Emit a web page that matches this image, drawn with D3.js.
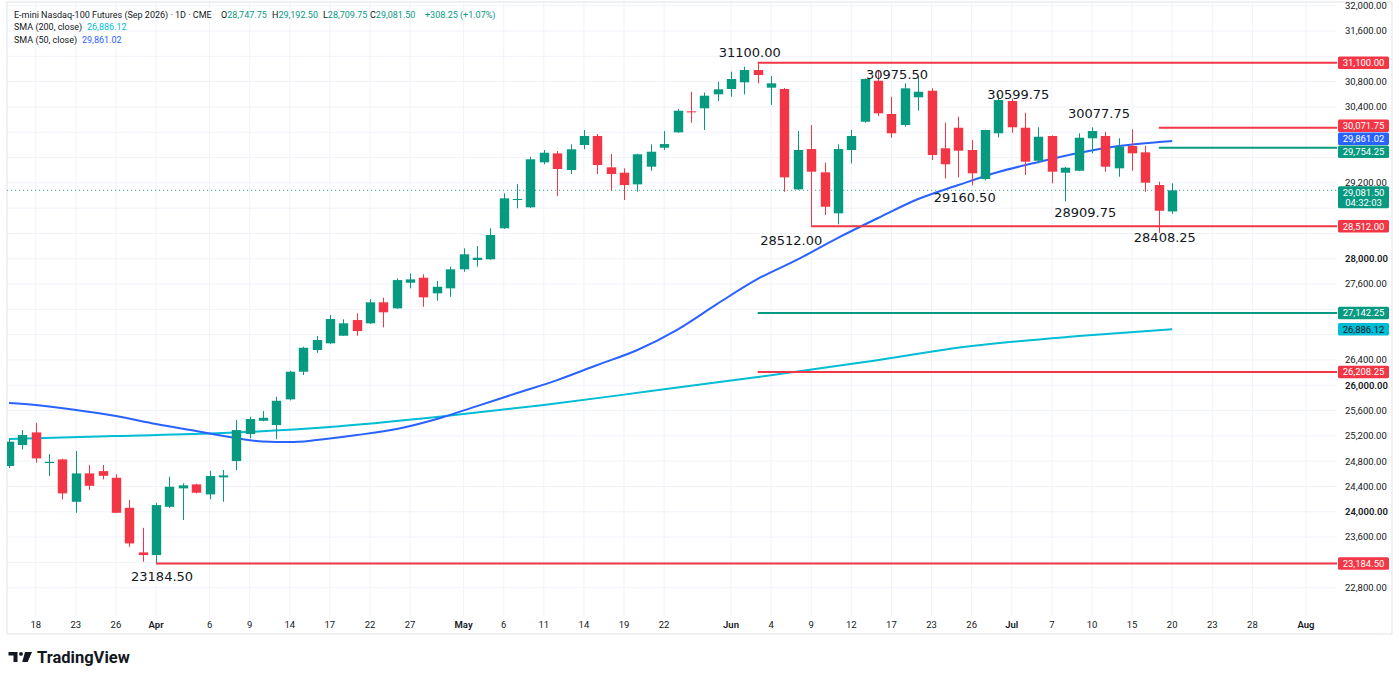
<!DOCTYPE html>
<html lang="en">
<head>
<meta charset="UTF-8">
<title>E-mini Nasdaq-100 Futures (Sep 2026) 1D</title>
<script src="https://d3js.org/d3.v7.min.js"></script>
<style>
    body { margin: 0; background: #fff; font-family: Roboto, Arial, sans-serif; }
    svg { display: block; }
    .axis-label { font-size: 9.5px; fill: #131722; }
    .note { font-family: "DejaVu Sans", sans-serif; font-size: 13px; fill: #131722; }
    .legend { font-size: 9px; fill: #131722; }
</style>
</head>
<body>
<svg width="1400" height="681"></svg>
<script>
// daily candles, one per trading day
const opens = [24724, 25055, 25255, 24770, 24828, 24158, 24607, 24643, 24538, 24063,
    23358, 23316, 24079, 24370, 24433, 24275, 24544, 24802, 25229, 25439,
    25371, 25777, 26214, 26557, 26663, 26783, 27031, 26979, 27311, 27216,
    27621, 27700, 27453, 27532, 27833, 27980, 27991, 28481, 28928, 28813,
    29524, 29666, 29402, 29798, 29940, 29445, 29360, 29176, 29455, 29755,
    29998, 30330, 30378, 30599, 30683, 30789, 30983, 30704, 30683, 29097,
    29734, 29366, 28718, 29719, 30166, 30814, 30288, 30114, 30552, 30656,
    29746, 30071, 29719, 29260, 29983, 30493, 30071, 29549, 29940, 29360,
    29391, 29904, 29940, 29429, 29782, 29682, 29165, 28747.75];
const highs = [25150, 25292, 25407, 24912, 24840, 24960, 24738, 24738, 24591, 24185,
    23747, 24143, 24554, 24449, 24440, 24648, 24660, 25450, 25502, 25592,
    25818, 26230, 26609, 26778, 27110, 27042, 27137, 27363, 27383, 27690,
    27769, 27753, 27648, 27874, 28165, 28201, 28481, 29034, 29181, 29613,
    29719, 29703, 29809, 30035, 29972, 29655, 29429, 29660, 29809, 30019,
    30367, 30640, 30625, 30798, 30957, 31036, 31100, 30889, 30700, 30019,
    30114, 29518, 29809, 30035, 30850, 30975.5, 30561, 30773, 30889, 30694,
    30150, 30245, 29877, 30040, 30599.75, 30530, 30308, 30078, 29950, 29450,
    29983, 30077.75, 30008, 29904, 30046, 29787, 29217, 29192.5];
const lows = [24690, 24987, 24775, 24565, 24196, 23984, 24343, 24512, 23980, 23447,
    23210, 23184.5, 24063, 23869, 24290, 24196, 24158, 24660, 25161, 25430,
    25145, 25760, 26161, 26514, 26650, 26780, 26783, 26970, 26915, 27210,
    27532, 27241, 27336, 27399, 27795, 27874, 27985, 28470, 28797, 28800,
    29493, 28991, 29339, 29730, 29339, 29075, 28928, 29059, 29391, 29719,
    29990, 30150, 30035, 30493, 30561, 30599, 30773, 30430, 29059, 29090,
    28512, 28691, 28544, 29508, 30150, 30256, 29913, 30087, 30340, 29561,
    29271, 29287, 29160.5, 29240, 29920, 29992, 29323, 29508, 29192, 28909.75,
    29385, 29666, 29376, 29297, 29391, 29059, 28408.25, 28709.75];
const closes = [25108, 25213, 24844, 24790, 24291, 24607, 24411, 24569, 23984, 23500,
    23316, 24106, 24396, 24418, 24301, 24565, 24575, 25292, 25466, 25486,
    25755, 26214, 26593, 26715, 27047, 26979, 26857, 27311, 27153, 27663,
    27674, 27390, 27557, 27833, 28070, 28016, 28375, 28955, 28945, 29572,
    29676, 29418, 29730, 29940, 29481, 29339, 29165, 29651, 29692, 29813,
    30340, 30315, 30577, 30678, 30841, 30983, 30904, 30773, 29287, 29719,
    29376, 28822, 29734, 29940, 30841, 30299, 29983, 30694, 30640, 29640,
    29493, 29708, 29350, 30035, 30509, 30078, 29534, 29929, 29376, 29439,
    29913, 30019, 29455, 29771, 29666, 29202, 28759, 29081.5];

// moving averages, read at a subset of bars
const sma50Bars = [0, 2, 5, 8, 11, 14, 17, 19, 21, 23, 26, 29, 32, 35, 38, 41, 44, 47, 50, 53, 56, 59, 62, 65, 68, 71, 74, 77, 80, 83, 86, 87];
const sma50 = [25719, 25687, 25608, 25513, 25387, 25276, 25165, 25110, 25102, 25134, 25213, 25308, 25466, 25671, 25877, 26082,
    26320, 26557, 26880, 27290, 27680, 27990, 28330, 28644, 28944, 29165, 29371, 29529, 29671, 29782, 29845, 29861.02];
const sma200Bars = [0, 8, 16, 24, 32, 40, 48, 56, 64, 72, 80, 87];
const sma200 = [25150, 25197, 25244, 25339, 25497, 25687, 25908, 26130, 26367, 26620, 26778, 26886.12];

// drawn horizontal levels
const levelValues = [31100, 30071.75, 29754.25, 28512, 27142.25, 26208.25, 23184.5];
const levelFrom = [56, 86, 86, 60, 56, 56, 11];
const levelKind = ["down", "down", "up", "down", "up", "down", "down"];

// text notes at highs / lows
const noteValues = [31100, 30975.5, 30599.75, 30077.75, 29160.5, 28909.75, 28512, 28408.25, 23184.5];
const noteBars = [56, 65, 74, 81, 72, 79, 60, 86, 11];

// axes
const dateLabels = ["18", "23", "26", "Apr", "6", "9", "14", "17", "22", "27", "May", "6", "11", "14", "19", "22",
    "Jun", "4", "9", "12", "17", "23", "26", "Jul", "7", "10", "15", "20", "23", "28", "Aug"];
const dateBars = [2, 5, 8, 11, 15, 18, 21, 24, 27, 30, 34, 37, 40, 43, 46, 49, 54, 57, 60, 63, 66, 69, 72, 75, 78, 81, 84, 87, 90, 93, 97];
const priceTicks = [22800, 23200, 23600, 24000, 24400, 24800, 25200, 25600, 26000, 26400, 26800, 27200, 27600,
    28000, 28400, 28800, 29200, 29600, 30000, 30400, 30800, 31200, 31600, 32000];

const GREEN = "#089981", RED = "#f23645", BLUE = "#2962ff", CYAN = "#00bcd4";

const svg = d3.select("svg");
const plot = { left: 7, right: 1337, top: 2, bottom: 616 };

const x = d3.scaleLinear().domain([0, 87]).range([9, 1172.2]);
const y = d3.scaleLinear().domain([22800, 32000]).range([587.7, 5.7]);
const fmt = d3.format(",.2f");

svg.append("rect").attr("width", 1400).attr("height", 681).attr("fill", "#fff");

svg.append("defs").append("clipPath").attr("id", "clip")
    .append("rect")
    .attr("x", plot.left).attr("y", plot.top)
    .attr("width", plot.right - plot.left).attr("height", plot.bottom - plot.top);

// grid
svg.append("g").selectAll("line").data(priceTicks).join("line")
    .attr("x1", plot.left).attr("x2", plot.right)
    .attr("y1", d => y(d)).attr("y2", d => y(d))
    .attr("stroke", "#f0f3fa");
svg.append("g").selectAll("line").data(dateBars).join("line")
    .attr("x1", d => x(d)).attr("x2", d => x(d))
    .attr("y1", plot.top).attr("y2", plot.bottom)
    .attr("stroke", "#f0f3fa");

// frame
svg.append("rect")
    .attr("x", plot.left).attr("y", plot.top)
    .attr("width", 1392 - plot.left).attr("height", 634 - plot.top)
    .attr("fill", "none").attr("stroke", "#e0e3eb");

const g = svg.append("g").attr("clip-path", "url(#clip)");

// last price dotted line
const last = closes[closes.length - 1];
g.append("line")
    .attr("x1", plot.left).attr("x2", plot.right)
    .attr("y1", y(last)).attr("y2", y(last))
    .attr("stroke", GREEN).attr("stroke-dasharray", "1.2,2.8").attr("opacity", 0.8);

// moving averages
const line = d3.line().curve(d3.curveMonotoneX);
g.append("path")
    .attr("d", line(sma200Bars.map((b, i) => [x(b), y(sma200[i])])))
    .attr("fill", "none").attr("stroke", CYAN).attr("stroke-width", 2);
g.append("path")
    .attr("d", line(sma50Bars.map((b, i) => [x(b), y(sma50[i])])))
    .attr("fill", "none").attr("stroke", BLUE).attr("stroke-width", 2);

// candles
const idx = d3.range(closes.length);
const bodyW = 9.4;
const candles = g.append("g").selectAll("g").data(idx).join("g")
    .attr("fill", i => closes[i] >= opens[i] ? GREEN : RED)
    .attr("stroke", i => closes[i] >= opens[i] ? GREEN : RED);
candles.append("line")
    .attr("x1", i => Math.round(x(i)) + 0.5).attr("x2", i => Math.round(x(i)) + 0.5)
    .attr("y1", i => y(highs[i])).attr("y2", i => y(lows[i]))
    .attr("stroke-width", 1);
candles.append("rect")
    .attr("x", i => Math.round(x(i)) + 0.5 - bodyW / 2)
    .attr("width", bodyW)
    .attr("y", i => y(Math.max(opens[i], closes[i])))
    .attr("height", i => Math.max(1, Math.abs(y(opens[i]) - y(closes[i]))))
    .attr("stroke", "none");

// levels
g.append("g").selectAll("line").data(levelValues).join("line")
    .attr("x1", (d, i) => x(levelFrom[i])).attr("x2", plot.right)
    .attr("y1", d => y(d)).attr("y2", d => y(d))
    .attr("stroke", (d, i) => levelKind[i] === "up" ? GREEN : RED)
    .attr("stroke-width", 2);

// notes
const noteDx = [-8, 19, 20, 7, -7, 20, -20, 6, 6];
const noteDy = [-5.6, 8.5, 4.7, -9, 17, 16, 19, 9, 18];
svg.append("g").selectAll("text").data(noteValues).join("text")
    .attr("class", "note")
    .attr("text-anchor", "middle")
    .attr("x", (d, i) => x(noteBars[i]) + noteDx[i])
    .attr("y", (d, i) => y(d) + noteDy[i])
    .text(d => d.toFixed(2));

// price axis boxes (placed first so covered tick labels can be skipped)
const boxH = 12.5;
const boxes = levelValues.map((v, i) => ({ v, fill: levelKind[i] === "up" ? GREEN : RED, text: "#fff" }));
boxes.push({ v: sma50[sma50.length - 1], fill: BLUE, text: "#fff" });
boxes.push({ v: sma200[sma200.length - 1], fill: CYAN, text: "#131722" });
boxes.forEach(b => b.cy = y(b.v));
boxes.sort((a, b) => a.cy - b.cy);
for (let k = 0; k < 60; k++) {
    for (let j = 1; j < boxes.length; j++) {
        const d = boxes[j].cy - boxes[j - 1].cy;
        if (d < boxH + 0.5) {
            const push = (boxH + 0.5 - d) / 2;
            boxes[j - 1].cy -= push;
            boxes[j].cy += push;
        }
    }
}
const lastY = y(last);
const spans = boxes.map(b => [b.cy - boxH / 2, b.cy + boxH / 2]);
spans.push([lastY - 4, lastY + 18]);
const covered = p => spans.some(([a, b]) => y(p) + 3 > a && y(p) - 3 < b);

// price axis
svg.append("g").selectAll("text").data(priceTicks.filter(p => !covered(p))).join("text")
    .attr("class", "axis-label")
    .attr("x", 1345).attr("y", d => y(d)).attr("dy", "0.35em")
    .attr("font-weight", d => d % 2000 === 0 && d < 32000 ? 600 : 400)
    .text(d => fmt(d));

// time axis
svg.append("g").selectAll("text").data(dateBars).join("text")
    .attr("class", "axis-label")
    .attr("text-anchor", "middle")
    .attr("x", d => x(d)).attr("y", 628)
    .attr("font-weight", (d, i) => isNaN(+dateLabels[i]) ? 600 : 400)
    .text((d, i) => dateLabels[i]);

const bx = svg.append("g").selectAll("g").data(boxes).join("g");
bx.append("rect")
    .attr("x", 1338).attr("width", 51)
    .attr("y", d => d.cy - boxH / 2).attr("height", boxH)
    .attr("rx", 1.5).attr("fill", d => d.fill);
bx.append("text")
    .attr("class", "axis-label")
    .attr("x", 1363.5).attr("text-anchor", "middle")
    .attr("y", d => d.cy).attr("dy", "0.35em")
    .style("fill", d => d.text)
    .text(d => fmt(d.v));

// last price box with countdown
svg.append("rect")
    .attr("x", 1338).attr("width", 51)
    .attr("y", lastY - 4).attr("height", 22)
    .attr("rx", 1.5).attr("fill", GREEN);
svg.append("text").attr("class", "axis-label")
    .attr("x", 1363.5).attr("text-anchor", "middle")
    .attr("y", lastY + 2).attr("dy", "0.35em").style("fill", "#fff")
    .text(fmt(last));
svg.append("text").attr("class", "axis-label")
    .attr("x", 1363.5).attr("text-anchor", "middle")
    .attr("y", lastY + 12).attr("dy", "0.35em").style("fill", "#fff")
    .text("04:32:03");

// legend
const o = opens[opens.length - 1], h = highs[highs.length - 1], l = lows[lows.length - 1];
const leg = svg.append("g").attr("class", "legend");
leg.append("text").attr("x", 14).attr("y", 18).text("E-mini Nasdaq-100 Futures (Sep 2026) · 1D · CME");
[["O", o, 221], ["H", h, 272], ["L", l, 323], ["C", last, 370]].forEach(([k, v, px]) => {
    const t = leg.append("text").attr("x", px).attr("y", 18);
    t.append("tspan").text(k);
    t.append("tspan").style("fill", GREEN).text(fmt(v));
});
leg.append("text").attr("x", 425).attr("y", 18).style("fill", GREEN).text("+308.25 (+1.07%)");
leg.append("text").attr("x", 14).attr("y", 29.5).text("SMA (200, close)");
leg.append("text").attr("x", 87).attr("y", 29.5).style("fill", CYAN).text(fmt(sma200[sma200.length - 1]));
leg.append("text").attr("x", 14).attr("y", 42.5).text("SMA (50, close)");
leg.append("text").attr("x", 82).attr("y", 42.5).style("fill", BLUE).text(fmt(sma50[sma50.length - 1]));

// logo
const logo = svg.append("g").attr("fill", "#131722");
logo.append("path").attr("d", "M8.5,652 H17.5 V662 H13.5 V655.6 H8.5 Z");
logo.append("circle").attr("cx", 21).attr("cy", 653.9).attr("r", 1.9);
logo.append("path").attr("d", "M25,652 H32 L27.6,662 H22.2 Z");
logo.append("text").attr("x", 37).attr("y", 662.5)
    .attr("font-size", 16.5).attr("font-weight", 700)
    .text("TradingView");
</script>
</body>
</html>
